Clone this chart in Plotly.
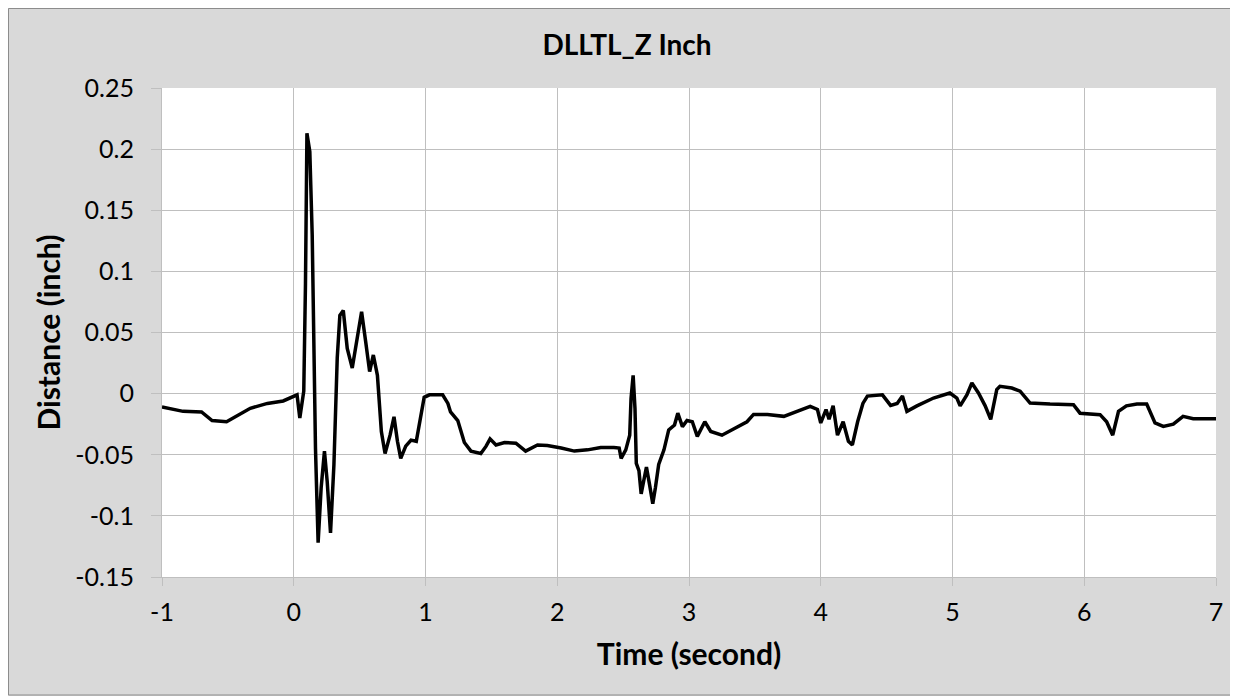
import plotly.graph_objects as go

time_s = [-1.0, -0.84, -0.70, -0.62, -0.51, -0.43, -0.33, -0.20, -0.08, 0.025, 0.046, 0.076,
          0.089, 0.10, 0.122, 0.14, 0.152, 0.165, 0.185, 0.208, 0.233, 0.254, 0.279, 0.305,
          0.33, 0.35, 0.376, 0.406, 0.444, 0.482, 0.515, 0.546, 0.576, 0.604, 0.635, 0.665,
          0.693, 0.731, 0.761, 0.787, 0.812, 0.85, 0.89, 0.93, 0.99, 1.03, 1.13, 1.17, 1.19,
          1.245, 1.295, 1.345, 1.42, 1.46, 1.49, 1.535, 1.60, 1.686, 1.76, 1.85, 1.925, 2.03,
          2.13, 2.23, 2.33, 2.43, 2.47, 2.485, 2.52, 2.55, 2.56, 2.576, 2.59, 2.60, 2.62,
          2.637, 2.652, 2.677, 2.70, 2.725, 2.745, 2.77, 2.81, 2.846, 2.89, 2.915, 2.95,
          2.985, 3.025, 3.063, 3.12, 3.165, 3.25, 3.37, 3.44, 3.49, 3.595, 3.72, 3.82, 3.92,
          3.975, 4.0, 4.04, 4.063, 4.094, 4.127, 4.17, 4.21, 4.24, 4.28, 4.32, 4.354, 4.468,
          4.53, 4.58, 4.62, 4.654, 4.73, 4.856, 4.98, 5.033, 5.058, 5.109, 5.147, 5.197,
          5.248, 5.29, 5.336, 5.36, 5.45, 5.513, 5.589, 5.74, 5.918, 5.968, 6.12, 6.17,
          6.216, 6.26, 6.32, 6.40, 6.474, 6.537, 6.60, 6.676, 6.75, 6.827, 7.0]

distance_in = [-0.011, -0.0145, -0.015, -0.022, -0.023, -0.018, -0.012, -0.008, -0.006, -0.001,
               -0.02, 0.002, 0.09, 0.213, 0.198, 0.13, 0.045, -0.045, -0.122, -0.077, -0.047,
               -0.072, -0.114, -0.058, 0.029, 0.064, 0.068, 0.037, 0.021, 0.048, 0.067, 0.0425,
               0.018, 0.0316, 0.015, -0.031, -0.049, -0.034, -0.019, -0.039, -0.053, -0.043,
               -0.038, -0.039, -0.003, -0.001, -0.001, -0.008, -0.015, -0.022, -0.040, -0.047,
               -0.049, -0.043, -0.037, -0.042, -0.040, -0.0405, -0.047, -0.042, -0.0425, -0.0445,
               -0.047, -0.046, -0.044, -0.044, -0.0445, -0.053, -0.046, -0.034, -0.004, 0.015,
               -0.012, -0.057, -0.063, -0.082, -0.074, -0.060, -0.074, -0.090, -0.077, -0.058,
               -0.046, -0.0297, -0.0257, -0.016, -0.027, -0.022, -0.023, -0.035, -0.023, -0.031,
               -0.034, -0.027, -0.023, -0.017, -0.017, -0.0186, -0.0145, -0.0104, -0.013, -0.024,
               -0.013, -0.021, -0.010, -0.034, -0.023, -0.039, -0.042, -0.023, -0.008, -0.002,
               -0.001, -0.0096, -0.008, -0.002, -0.0145, -0.010, -0.0036, 0.0005, -0.0036,
               -0.010, -0.001, 0.0087, 0.0005, -0.010, -0.021, 0.0033, 0.006, 0.0046, 0.002,
               -0.0077, -0.0085, -0.009, -0.016, -0.0172, -0.023, -0.034, -0.0145, -0.010,
               -0.0085, -0.0085, -0.024, -0.0268, -0.025, -0.0186, -0.0205, -0.0205]

x_ticks = [-1, 0, 1, 2, 3, 4, 5, 6, 7]
x_tick_text = ["-1", "0", "1", "2", "3", "4", "5", "6", "7"]
y_ticks = [-0.15, -0.1, -0.05, 0, 0.05, 0.1, 0.15, 0.2, 0.25]
y_tick_text = ["-0.15", "-0.1", "-0.05", "0", "0.05", "0.1", "0.15", "0.2", "0.25"]

FONT = "Lato"
GRID = "#bfbfbf"
W, H = 1238, 696
L, R, T, B = 154, 30, 80, 127
PW, PH = W - L - R, H - T - B

fig = go.Figure()
fig.add_trace(go.Scatter(x=time_s, y=distance_in, mode="lines",
                         line=dict(color="black", width=3.5), showlegend=False))

fig.update_layout(
    width=W, height=H,
    paper_bgcolor="#d9d9d9", plot_bgcolor="white",
    margin=dict(l=L, r=R, t=T, b=B),
    title=dict(text="<b>DLLTL_Z Inch</b>", x=0.5, xanchor="center", y=1 - 37 / H,
               yanchor="middle", font=dict(family=FONT, size=28, color="black")),
    font=dict(family=FONT, color="black"),
    xaxis=dict(range=[-1, 7], tickvals=x_ticks, ticktext=x_tick_text, showgrid=True,
               gridcolor=GRID, gridwidth=1, zeroline=False, showline=True, linecolor=GRID,
               linewidth=1, ticks="outside", ticklen=8, tickcolor=GRID,
               ticklabelstandoff=5, tickfont=dict(size=25),
               title=dict(text="<b>Time (second)</b>", font=dict(size=30), standoff=18)),
    yaxis=dict(range=[-0.15, 0.25], tickvals=y_ticks, ticktext=y_tick_text, showgrid=True,
               gridcolor=GRID, gridwidth=1, zeroline=False, showline=True, linecolor=GRID,
               linewidth=1, ticks="outside", ticklen=10, tickcolor=GRID,
               ticklabelstandoff=12, tickfont=dict(size=25),
               title=dict(text="<b>Distance (inch)</b>", font=dict(size=30), standoff=5)),
)

# outer chart border
fig.add_shape(type="rect", xref="paper", yref="paper",
              x0=-(L - 0.5) / PW, x1=(W - 10 - L) / PW,
              y0=1 - (H - 9 - T) / PH, y1=1 + (T - 0.5) / PH,
              line=dict(color="#8c8c8c", width=1), layer="below")

fig.write_html("out.html")
